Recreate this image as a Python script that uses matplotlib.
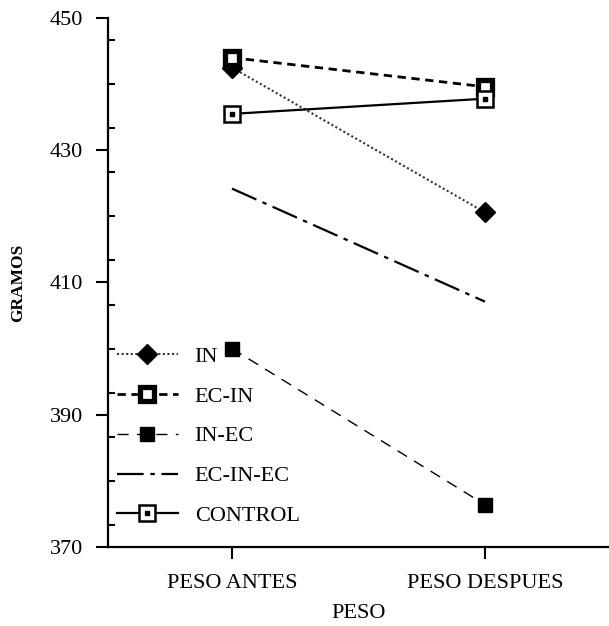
import matplotlib
matplotlib.use("Agg")
import matplotlib.pyplot as plt
from matplotlib.ticker import MultipleLocator
from matplotlib.legend_handler import HandlerTuple

categories = ["PESO ANTES", "PESO DESPUES"]
in_vals = [442.5, 420.6]
ecin_vals = [444.0, 439.6]
inec_vals = [400.0, 376.4]
ecinec_vals = [424.2, 407.1]
control_vals = [435.5, 437.8]
yticks = [370, 390, 410, 430, 450]

plt.rcParams['font.family'] = ['Liberation Serif', 'DejaVu Serif']

fig = plt.figure(figsize=(6.09, 6.26), dpi=100)
ax = fig.add_axes([108/609, 79/626, 1 - 108/609, (547-18)/626])

x = list(range(len(categories)))

h_in, = ax.plot(x, in_vals, color='#333333', linestyle=(0, (1, 1.2)), lw=1.5,
                marker='D', ms=10, mfc='black', mec='black', label='IN')
h_ecin, = ax.plot(x, ecin_vals, color='black', linestyle=(0, (3, 2)), lw=2.0,
                  marker='s', ms=10, mfc='white', mec='black', mew=3.8, label='EC-IN')
h_inec, = ax.plot(x, inec_vals, color='black', linestyle=(0, (8, 6)), lw=1.0,
                  marker='s', ms=10, mfc='black', mec='black', label='IN-EC')
h_ecinec, = ax.plot(x, ecinec_vals, color='black', linestyle=(0, (12, 3, 2, 3)), lw=1.6,
                    label='EC-IN-EC')
h_ctrl, = ax.plot(x, control_vals, color='black', linestyle='-', lw=1.6,
                  marker='s', ms=11, mfc='white', mec='black', mew=1.8, label='CONTROL')
h_ctrl_dot, = ax.plot(x, control_vals, linestyle='none', marker='s', ms=3,
                      mfc='black', mec='black')

ax.set_xlim(-0.49, 1.49)
ax.set_ylim(370, 450)
ax.set_xticks(x)
ax.set_xticklabels(categories, fontsize=16)
ax.set_yticks(yticks)
ax.set_yticklabels([str(v) for v in yticks], fontsize=16)
ax.yaxis.set_minor_locator(MultipleLocator(20/3))
ax.tick_params(axis='y', which='major', direction='out', length=9, width=1.5, pad=9)
ax.tick_params(axis='y', which='minor', direction='in', length=5, width=1.5)
ax.tick_params(axis='x', which='major', direction='out', length=8.5, width=1.5, pad=11)

for s in ['top', 'right']:
    ax.spines[s].set_visible(False)
for s in ['left', 'bottom']:
    ax.spines[s].set_linewidth(1.6)

ax.set_xlabel("PESO", fontsize=16, labelpad=8)
ax.set_ylabel("GRAMOS", fontsize=12.5, fontweight='bold', labelpad=17)

leg = ax.legend([h_in, h_ecin, h_inec, h_ecinec, (h_ctrl, h_ctrl_dot)],
                ['IN', 'EC-IN', 'IN-EC', 'EC-IN-EC', 'CONTROL'],
                handler_map={tuple: HandlerTuple(ndivide=1, pad=0)},
                numpoints=1,
                loc='lower left', bbox_to_anchor=(0.0, 0.0225), frameon=False,
                fontsize=16, labelspacing=0.87, handlelength=2.75, handletextpad=0.75,
                borderaxespad=0.0, borderpad=0.4)

fig.savefig("out.png", dpi=100)
